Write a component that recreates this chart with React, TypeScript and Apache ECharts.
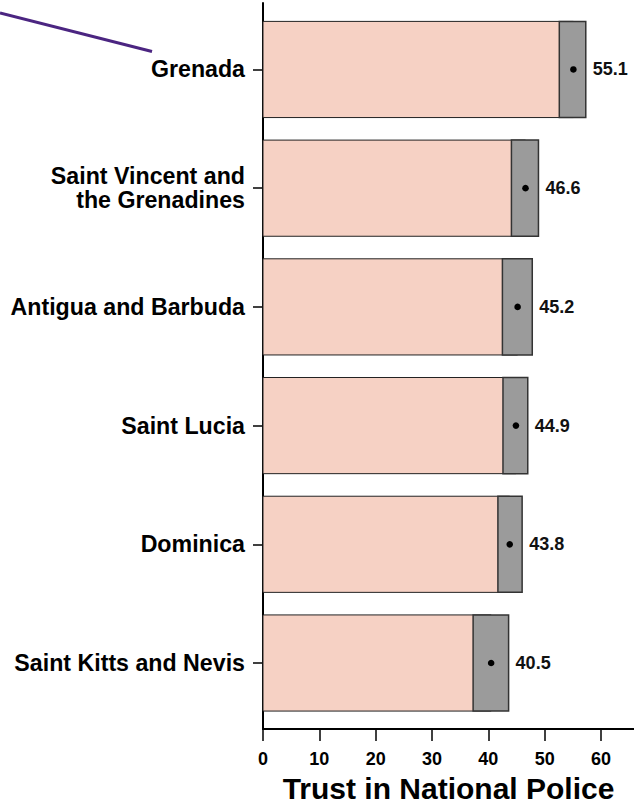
import React, { useEffect, useRef } from "react";
import * as echarts from "echarts";

// bottom to top
const countries = [
  "Saint Kitts and Nevis",
  "Dominica",
  "Saint Lucia",
  "Antigua and Barbuda",
  "Saint Vincent and\nthe Grenadines",
  "Grenada",
];
const means = [40.5, 43.8, 44.9, 45.2, 46.6, 55.1];
const lowers = [37.3, 41.7, 42.6, 42.5, 44.1, 52.6];
const uppers = [43.6, 46.0, 47.0, 47.8, 48.9, 57.3];
const xTicks = [0, 10, 20, 30, 40, 50, 60];
const axisTitle = "Trust in National Police";

const FONT = "'Liberation Sans', Arial, Helvetica, sans-serif";
const PINK = "#f6d1c4";
const GRAY = "#9b9b9b";
const BAR_FRAC = 0.81;

export default function App() {
  const ref = useRef<HTMLDivElement>(null);
  useEffect(() => {
    if (!ref.current) return;
    const chart = echarts.init(ref.current, null, { renderer: "svg" });
    const data = countries.map((_, i) => [i, lowers[i], uppers[i], means[i]]);
    const catIdx = countries.map((_, i) => i);
    chart.setOption({
      animation: false,
      backgroundColor: "#ffffff",
      grid: {
        left: 263,
        right: 0,
        top: 3,
        bottom: 83,
        containLabel: false,
        outerBoundsMode: "none",
      },
      xAxis: {
        type: "value",
        min: 0,
        max: 65.86,
        splitLine: { show: false },
        axisLine: { show: true, onZero: false, lineStyle: { color: "#000", width: 2 } },
        axisTick: {
          show: true,
          length: 12,
          customValues: xTicks,
          lineStyle: { color: "#000", width: 1.5 },
        },
        axisLabel: {
          customValues: xTicks,
          margin: 21,
          fontFamily: FONT,
          fontWeight: "bold",
          fontSize: 18,
          color: "#000",
        },
        name: axisTitle,
        nameLocation: "middle",
        nameGap: 44,
        nameTextStyle: {
          fontFamily: FONT,
          fontWeight: "bold",
          fontSize: 30,
          color: "#000",
        },
      },
      yAxis: {
        type: "value",
        min: -0.556,
        max: 5.56,
        splitLine: { show: false },
        axisLine: { show: true, onZero: false, lineStyle: { color: "#000", width: 2 } },
        axisTick: {
          show: true,
          length: 10,
          customValues: catIdx,
          lineStyle: { color: "#000", width: 1.5 },
        },
        axisLabel: {
          customValues: catIdx,
          margin: 18,
          formatter: (v: number) => countries[Math.round(v)],
          fontFamily: FONT,
          fontWeight: "bold",
          fontSize: 23.2,
          lineHeight: 24,
          color: "#000",
          align: "right",
        },
      },
      graphic: [
        {
          type: "line",
          shape: { x1: 0, y1: 13, x2: 152, y2: 51.5 },
          style: { stroke: "#4b2581", lineWidth: 3 },
          z: 10,
        },
      ],
      series: [
        {
          type: "custom",
          data,
          encode: { x: [1, 2, 3], y: 0 },
          clip: false,
          renderItem: (params: any, api: any) => {
            const i = api.value(0);
            const lo = api.value(1);
            const hi = api.value(2);
            const m = api.value(3);
            const p0 = api.coord([0, i]);
            const pm = api.coord([m, i]);
            const pl = api.coord([lo, i]);
            const ph = api.coord([hi, i]);
            const h = api.size([0, BAR_FRAC])[1];
            const y = p0[1] - h / 2;
            return {
              type: "group",
              children: [
                {
                  type: "rect",
                  shape: { x: p0[0], y, width: pm[0] - p0[0], height: h },
                  style: { fill: PINK, stroke: "#222", lineWidth: 1 },
                },
                {
                  type: "rect",
                  shape: { x: pl[0], y, width: ph[0] - pl[0], height: h },
                  style: { fill: GRAY, stroke: "#333", lineWidth: 1.5 },
                },
                {
                  type: "circle",
                  shape: { cx: pm[0], cy: p0[1], r: 3.3 },
                  style: { fill: "#000" },
                },
                {
                  type: "text",
                  x: ph[0] + 7,
                  y: p0[1],
                  style: {
                    text: m.toFixed(1),
                    fill: "#111",
                    fontFamily: FONT,
                    fontWeight: "bold",
                    fontSize: 18,
                    align: "left",
                    verticalAlign: "middle",
                  },
                },
              ],
            };
          },
        },
      ],
    });
    return () => chart.dispose();
  }, []);
  return (
    <div
      ref={ref}
      style={{ position: "fixed", left: 0, top: 0, width: 634, height: 812 }}
    />
  );
}
